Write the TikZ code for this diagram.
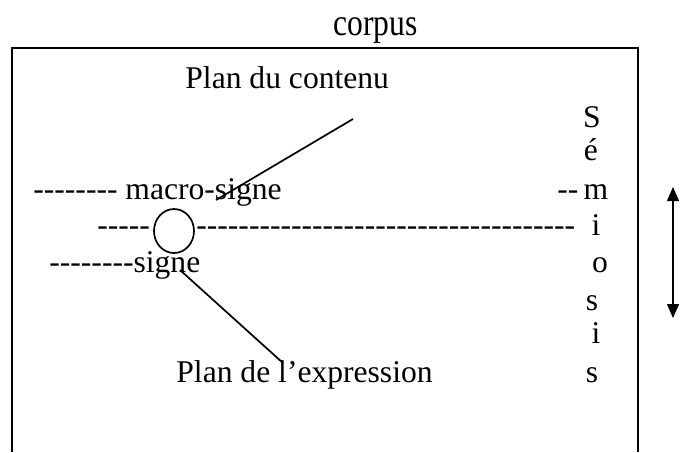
\documentclass[tikz,border=0pt]{standalone}
\usepackage{fontspec}
\setmainfont{Liberation Serif}[Ligatures=TeXOff]
\usetikzlibrary{arrows.meta,shapes.geometric}

\tikzset{
  txt/.style={anchor=base west, inner sep=0pt, font=\fontsize{15.8}{18}\selectfont},
  lettre/.style={anchor=base, inner sep=0pt, font=\fontsize{15.8}{18}\selectfont},
  trait/.style={line width=0.85pt},
  fleche/.style={line width=0.7pt, {Triangle[length=7pt,width=6pt]}-{Triangle[length=7pt,width=6pt]}},
}

\begin{document}
\begin{tikzpicture}[x=0.5pt,y=-0.5pt]
    \useasboundingbox (0,0) rectangle (681,452);
    % cadre du corpus (ouvert en bas)
    \draw[trait] (11.7,452) |- (638,47.7) -- (638,452);
    \node[txt] (corpus) at (333,35) {\scalebox{1}[1.2]{corpus}};
    % les deux plans
    \node[txt] (contenu) at (185,88) {Plan du contenu};
    \node[txt] (expression) at (176,382) {Plan de l’expression};
    % niveaux
    \node[txt] (macro) at (33,199) {-------- macro-signe};
    \node[txt] (tiretm) at (557,199) {--};
    \node[draw, trait, ellipse, minimum width=20pt, minimum height=22pt,
          inner sep=0pt] (cercle) at (174,231) {};
    \node[txt] (gauche) at (97,235) {-----};
    \node[txt] (droite) at (196,235) {------------------------------------};
    \node[txt] (signe) at (49,272) {--------signe};
    % Sémiosis, une lettre par ligne
    \foreach \l/\x/\y [count=\i] in {S/592/127, é/591/160, m/596/199, i/596/235,
                                     o/600/272, s/592/310, i/596/343, s/592/382}
        \node[lettre] (l\i) at (\x,\y) {\l};
    % traits obliques
    \coordinate (c1) at (353,119);
    \coordinate (c2) at (216,200);
    \coordinate (c3) at (180,270);
    \coordinate (c4) at (283,363);
    \draw[trait] (c1) -- (c2);
    \draw[trait] (c3) -- (c4);
    % double flèche
    \coordinate (haut) at (673,187);
    \coordinate (bas) at (673,318);
    \draw[fleche] (haut) -- (bas);
\end{tikzpicture}
\end{document}
